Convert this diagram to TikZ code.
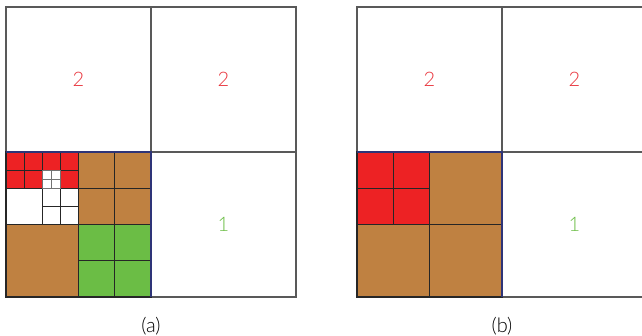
\documentclass[tikz,border=0pt]{standalone}
\usepackage{fontspec}
\setmainfont{Lato Light}
\usepackage{xcolor}
\definecolor{cellred}{RGB}{237,34,36}
\definecolor{cellbrown}{RGB}{191,129,65}
\definecolor{cellgreen}{RGB}{107,189,69}
\definecolor{edgeblue}{RGB}{46,52,120}
\definecolor{labelred}{RGB}{232,50,58}
\definecolor{labelgreen}{RGB}{107,189,69}

\begin{document}
\begin{tikzpicture}[
    x=1pt, y=-1pt,
    frame/.style={draw=black!65, line width=1.4pt},
    cell/.style={draw=black!85, line width=1.2pt},
    fine/.style={draw=black!55, line width=0.9pt},
    rim/.style={draw=edgeblue, line width=1.4pt},
    level/.style={font=\fontsize{20}{24}\selectfont},
    caption/.style={font=\fontsize{20}{24}\selectfont, text=black}
]
    \useasboundingbox (0,0) rectangle (642,336);
    \clip (0,0) rectangle (642,336);

    % (a) refined grid
    \begin{scope}[shift={(6,7)}]
        \draw[frame] (0,0) rectangle (290,290);
        \draw[frame] (145,0) -- (145,290) (0,145) -- (290,145);
        % red cells
        \foreach \i/\j in {0/0,1/0,2/0,3/0,0/1,1/1,3/1}
            \path[cell, fill=cellred] ({\i*18.125},{145+\j*18.125}) rectangle ++(18.125,18.125);
        % white cells
        \path[cell, fill=white] (0,181.25) rectangle ++(36.25,36.25);
        \foreach \i/\j in {0/0,1/0,0/1,1/1}
            \path[cell, fill=white] ({36.25+\i*18.125},{181.25+\j*18.125}) rectangle ++(18.125,18.125);
        \foreach \i/\j in {0/0,1/0,0/1,1/1}
            \path[fine, fill=white] ({36.25+\i*9.0625},{163.125+\j*9.0625}) rectangle ++(9.0625,9.0625);
        % brown cells
        \foreach \i/\j in {0/0,1/0,0/1,1/1}
            \path[cell, fill=cellbrown] ({72.5+\i*36.25},{145+\j*36.25}) rectangle ++(36.25,36.25);
        \path[cell, fill=cellbrown] (0,217.5) rectangle ++(72.5,72.5);
        % green cells
        \foreach \i/\j in {0/0,1/0,0/1,1/1}
            \path[cell, fill=cellgreen] ({72.5+\i*36.25},{217.5+\j*36.25}) rectangle ++(36.25,36.25);
        \draw[rim] (0,145) -- (145,145) -- (145,290);
        % levels
        \node[level, text=labelred] (a-nw) at (72.5,72.5) {2};
        \node[level, text=labelred] (a-ne) at (217.5,72.5) {2};
        \node[level, text=labelgreen] (a-se) at (217.5,217.5) {1};
        \node[caption] (cap-a) at (145,319) {(a)};
    \end{scope}

    % (b) coarse grid
    \begin{scope}[shift={(357,7)}]
        \draw[frame] (0,0) rectangle (290,290);
        \draw[frame] (145,0) -- (145,290) (0,145) -- (290,145);
        \foreach \i/\j in {0/0,1/0,0/1,1/1}
            \path[cell, fill=cellred] ({\i*36.25},{145+\j*36.25}) rectangle ++(36.25,36.25);
        \foreach \i/\j in {1/0,0/1,1/1}
            \path[cell, fill=cellbrown] ({\i*72.5},{145+\j*72.5}) rectangle ++(72.5,72.5);
        \draw[rim] (0,145) -- (145,145) -- (145,290);
        \node[level, text=labelred] (b-nw) at (72.5,72.5) {2};
        \node[level, text=labelred] (b-ne) at (217.5,72.5) {2};
        \node[level, text=labelgreen] (b-se) at (217.5,217.5) {1};
        \node[caption] (cap-b) at (145,319) {(b)};
    \end{scope}
\end{tikzpicture}
\end{document}
